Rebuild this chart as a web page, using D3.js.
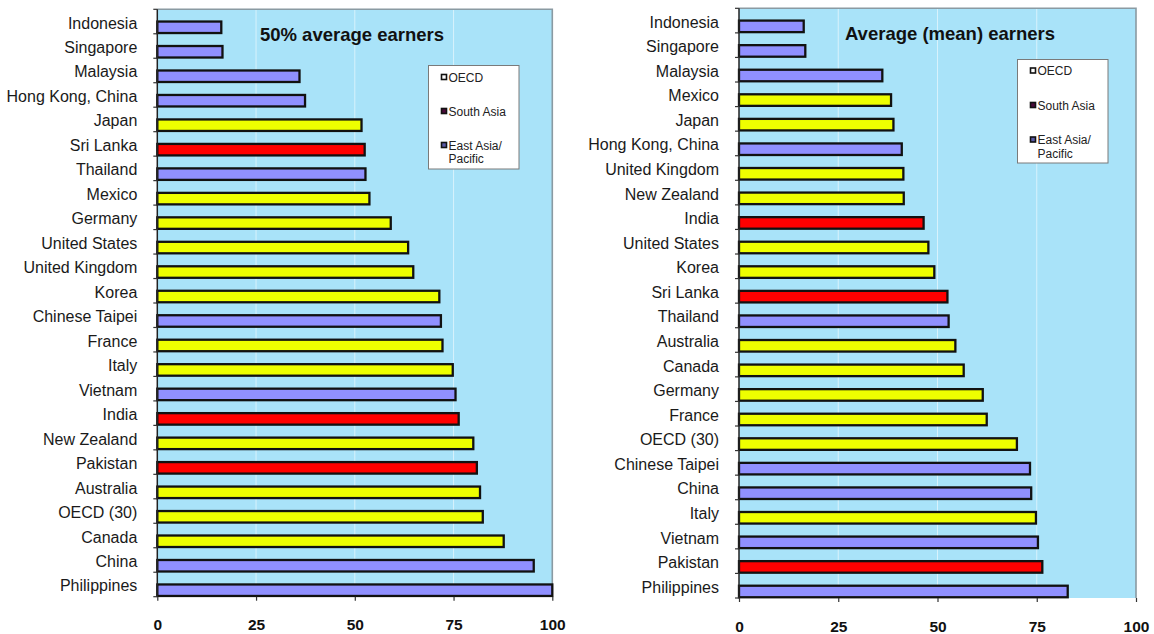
<!DOCTYPE html>
<html>
<head>
<meta charset="utf-8">
<script src="https://cdn.jsdelivr.net/npm/d3@7"></script>
<style>
  html, body { margin: 0; padding: 0; background: #ffffff; }
  svg { display: block; }
  text { font-family: "Liberation Sans", Arial, sans-serif; }
</style>
</head>
<body>
<svg id="chart" width="1154" height="634"></svg>
<script>
// ---------- DATA ----------
const groups = ["OECD", "South Asia", "East Asia/Pacific"];
const groupLegendLabels = [["OECD"], ["South Asia"], ["East Asia/", "Pacific"]];
const tickValues = [0, 25, 50, 75, 100];

const leftTitle = "50% average earners";
const leftCategories = ["Indonesia", "Singapore", "Malaysia", "Hong Kong, China", "Japan", "Sri Lanka", "Thailand", "Mexico", "Germany", "United States", "United Kingdom", "Korea", "Chinese Taipei", "France", "Italy", "Vietnam", "India", "New Zealand", "Pakistan", "Australia", "OECD (30)", "Canada", "China", "Philippines"];
const leftValues = [16.2, 16.5, 36.0, 37.4, 51.7, 52.5, 52.7, 53.7, 59.1, 63.5, 64.8, 71.4, 71.8, 72.2, 74.8, 75.5, 76.3, 80.0, 80.9, 81.7, 82.4, 87.7, 95.3, 100];
const leftGroups = ["East Asia/Pacific", "East Asia/Pacific", "East Asia/Pacific", "East Asia/Pacific", "OECD", "South Asia", "East Asia/Pacific", "OECD", "OECD", "OECD", "OECD", "OECD", "East Asia/Pacific", "OECD", "OECD", "East Asia/Pacific", "South Asia", "OECD", "South Asia", "OECD", "OECD", "OECD", "East Asia/Pacific", "East Asia/Pacific"];

const rightTitle = "Average (mean) earners";
const rightCategories = ["Indonesia", "Singapore", "Malaysia", "Mexico", "Japan", "Hong Kong, China", "United Kingdom", "New Zealand", "India", "United States", "Korea", "Sri Lanka", "Thailand", "Australia", "Canada", "Germany", "France", "OECD (30)", "Chinese Taipei", "China", "Italy", "Vietnam", "Pakistan", "Philippines"];
const rightValues = [16.3, 16.7, 36.1, 38.3, 38.9, 41.0, 41.4, 41.5, 46.5, 47.7, 49.2, 52.5, 52.8, 54.5, 56.6, 61.4, 62.4, 70.0, 73.3, 73.6, 74.8, 75.3, 76.4, 82.8];
const rightGroups = ["East Asia/Pacific", "East Asia/Pacific", "East Asia/Pacific", "OECD", "OECD", "East Asia/Pacific", "OECD", "OECD", "South Asia", "OECD", "OECD", "South Asia", "East Asia/Pacific", "OECD", "OECD", "OECD", "OECD", "OECD", "East Asia/Pacific", "East Asia/Pacific", "OECD", "East Asia/Pacific", "South Asia", "East Asia/Pacific"];

// ---------- STYLE ----------
const barColor = d3.scaleOrdinal().domain(groups).range(["#EEFF00", "#FF0000", "#9090FF"]);
const legendMarkerFill = d3.scaleOrdinal().domain(groups).range(["#ffffff", "#4a0a3a", "#5a5aa8"]);

const svg = d3.select("#chart");

function drawPanel(cfg) {
  const { categories, values, grp, title, x0, x1, y0, y1, titleX, titleY, legend, tickLabelY } = cfg;
  const data = categories.map((c, i) => ({ cat: c, val: values[i], grp: grp[i] }));

  const x = d3.scaleLinear().domain([0, 100]).range([x0, x1]);
  const y = d3.scaleBand().domain(categories).range([y0, y1]).paddingInner(0).paddingOuter(0);
  const bw = y.bandwidth();

  const g = svg.append("g");

  // plot background
  g.append("rect")
    .attr("x", x(0)).attr("y", y0)
    .attr("width", x(100) - x(0)).attr("height", y1 - y0)
    .attr("fill", "#A9E3F9");

  // gridlines
  g.append("g").selectAll("line")
    .data(tickValues.filter(v => v > 0 && v < 100))
    .join("line")
    .attr("x1", d => x(d)).attr("x2", d => x(d))
    .attr("y1", y0).attr("y2", y1)
    .attr("stroke", "#d8f2fc").attr("stroke-width", 1);

  // plot border (top and right)
  g.append("path")
    .attr("d", `M${x(0)},${y0}H${x(100)}V${y1}`)
    .attr("fill", "none").attr("stroke", "#8a9aa2").attr("stroke-width", 1.6);

  // bars
  g.append("g").selectAll("rect")
    .data(data)
    .join("rect")
    .attr("x", x(0))
    .attr("y", d => y(d.cat) + bw * 0.5)
    .attr("width", d => x(d.val) - x(0))
    .attr("height", bw * 0.47)
    .attr("fill", d => barColor(d.grp))
    .attr("stroke", "#111")
    .attr("stroke-width", 2.3);

  // left axis line + ticks at band boundaries
  const boundaries = d3.range(categories.length + 1).map(i => y0 + i * y.step());
  g.append("line")
    .attr("x1", x(0)).attr("x2", x(0)).attr("y1", y0).attr("y2", y1)
    .attr("stroke", "#222").attr("stroke-width", 1.5);
  g.append("g").selectAll("line")
    .data(boundaries)
    .join("line")
    .attr("x1", x(0) - 4).attr("x2", x(0))
    .attr("y1", d => d).attr("y2", d => d)
    .attr("stroke", "#333").attr("stroke-width", 1.2);

  // category labels
  g.append("g").selectAll("text")
    .data(data)
    .join("text")
    .attr("x", x(0) - 20)
    .attr("y", d => y(d.cat) + bw / 2 + 7)
    .attr("text-anchor", "end")
    .attr("font-size", 16)
    .attr("fill", "#1a1a1a")
    .text(d => d.cat);

  // bottom axis ticks and labels
  const xAxis = d3.axisBottom(x).tickValues(tickValues).tickSize(4).tickPadding(0).tickFormat(d3.format("d"));
  const ax = g.append("g").attr("transform", `translate(0,${y1})`).call(xAxis);
  ax.select(".domain").remove();
  ax.selectAll(".tick line").attr("stroke", "#333").attr("stroke-width", 1.2);
  ax.selectAll(".tick text")
    .attr("y", tickLabelY - y1)
    .attr("dy", null)
    .attr("font-size", 15.5)
    .attr("font-weight", "bold")
    .attr("font-family", "'Liberation Sans', Arial, sans-serif")
    .attr("fill", "#111");

  // title
  g.append("text")
    .attr("x", titleX).attr("y", titleY)
    .attr("text-anchor", "middle")
    .attr("font-size", 18.5)
    .attr("font-weight", "bold")
    .attr("fill", "#111")
    .text(title);

  // legend
  const lg = g.append("g");
  lg.append("rect")
    .attr("x", legend.x).attr("y", legend.y)
    .attr("width", legend.w).attr("height", legend.h)
    .attr("fill", "#ffffff").attr("stroke", "#7a7a7a").attr("stroke-width", 1);
  groups.forEach((gr, i) => {
    const cy = legend.y + legend.firstY + i * legend.step;
    lg.append("rect")
      .attr("x", legend.x + 13).attr("y", cy - 3)
      .attr("width", 5).attr("height", 5)
      .attr("fill", legendMarkerFill(gr))
      .attr("stroke", "#111").attr("stroke-width", 1.6);
    groupLegendLabels[i].forEach((line, j) => {
      lg.append("text")
        .attr("x", legend.x + 20).attr("y", cy + 4 + j * 13.5)
        .attr("font-size", 12)
        .attr("fill", "#222")
        .text(line);
    });
  });
}

drawPanel({
  categories: leftCategories, values: leftValues, grp: leftGroups, title: leftTitle,
  x0: 157.3, x1: 552.3, y0: 9.3, y1: 596.7,
  titleX: 352, titleY: 41,
  legend: { x: 428.5, y: 65.5, w: 90.5, h: 103.5, firstY: 12, step: 34 },
  tickLabelY: 630
});

drawPanel({
  categories: rightCategories, values: rightValues, grp: rightGroups, title: rightTitle,
  x0: 739, x1: 1136, y0: 8.3, y1: 598,
  titleX: 950, titleY: 40,
  legend: { x: 1017.5, y: 59.5, w: 90.5, h: 103.5, firstY: 11.5, step: 34.5 },
  tickLabelY: 632
});
</script>
</body>
</html>
